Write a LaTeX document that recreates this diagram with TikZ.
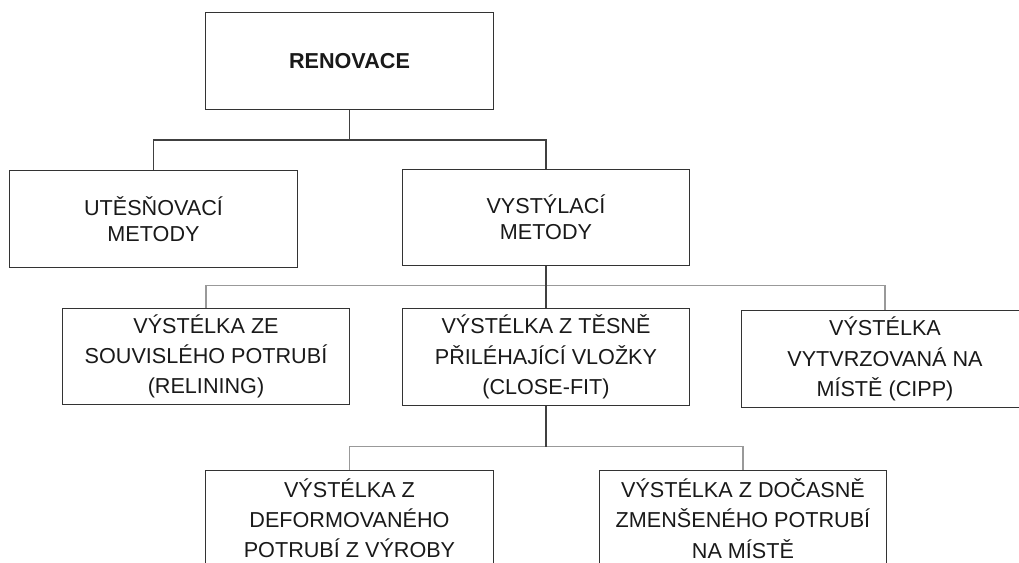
\documentclass[tikz,border=0pt]{standalone}
\usepackage{fontspec}
\setmainfont{Liberation Sans}
\usetikzlibrary{positioning}

\begin{document}
\begin{tikzpicture}[x=0.02cm,y=0.02cm,line join=miter,
    box/.style={draw=black!80,line width=0.8pt,minimum width=5.75cm,minimum height=1.93cm,
      inner sep=0pt,align=center,text=black!90,font=\fontsize{12.3}{17.2}\selectfont},
    topbox/.style={box,font=\fontsize{12.3}{14.8}\selectfont},
    conn/.style={draw=black!75,line width=0.7pt},
    subconn/.style={draw=black!40,line width=0.8pt}]
  % page size
  \useasboundingbox (0,0) rectangle (1019,563);

  % boxes
  \node[topbox] (ren)  at (349.5,502)  {\textbf{RENOVACE}};
  \node[topbox] (ute)  at (153.5,344)  {UTĚSŇOVACÍ\\METODY};
  \node[topbox] (vys)  at (546,345.5)  {VYSTÝLACÍ\\METODY};
  \node[box]    (rel)  at (206,206.5)  {VÝSTÉLKA ZE\\SOUVISLÉHO POTRUBÍ\\(RELINING)};
  \node[box]    (cf)   at (546,206)    {VÝSTÉLKA Z TĚSNĚ\\PŘILÉHAJÍCÍ VLOŽKY\\(CLOSE-FIT)};
  \node[box]    (cipp) at (885,204)    {VÝSTÉLKA\\VYTVRZOVANÁ NA\\MÍSTĚ (CIPP)};
  \node[box]    (def)  at (349.5,44.5) {VÝSTÉLKA Z\\DEFORMOVANÉHO\\POTRUBÍ Z VÝROBY};
  \node[box]    (doc)  at (743,44.5)   {VÝSTÉLKA Z DOČASNĚ\\ZMENŠENÉHO POTRUBÍ\\NA MÍSTĚ};

  % first level
  \draw[conn] (ren.south) -- ++(0,-30) -| (ute.north);
  \draw[conn] (ren.south) -- ++(0,-30) -| (vys.north);

  % second level
  \draw[subconn] (rel.north) -- ++(0,22) coordinate (fork1) -| (cipp.north);
  \draw[conn] (vys.south) -- (cf.north);

  % third level
  \draw[subconn] (def.north) -- ++(0,23) coordinate (fork2) -| (doc.north);
  \draw[conn] (cf.south) -- (cf.south |- fork2);
\end{tikzpicture}
\end{document}
